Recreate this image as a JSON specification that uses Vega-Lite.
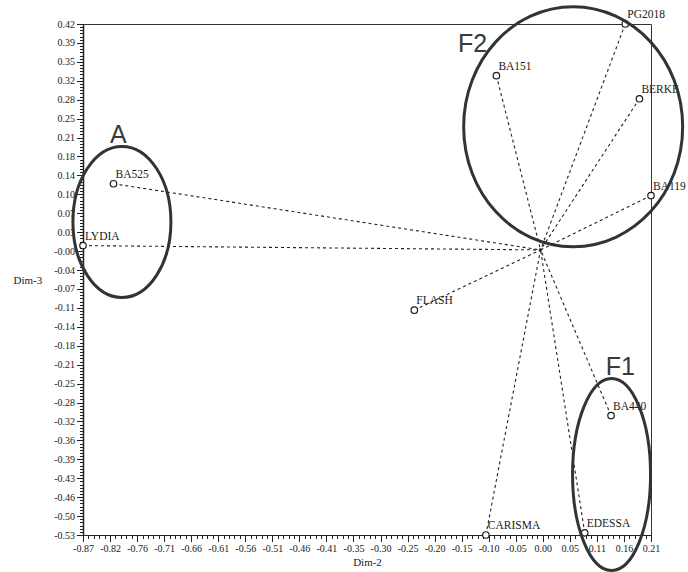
{
  "$schema": "https://vega.github.io/schema/vega-lite/v6.json",
  "width": 568,
  "height": 511,
  "autosize": {"type": "none"},
  "padding": {"left": 83, "top": 24, "right": 37, "bottom": 37},
  "background": "white",
  "config": {
    "view": {"stroke": "#333333", "strokeWidth": 1},
    "axis": {"grid": false, "domainColor": "#222222", "tickColor": "#222222", "labelColor": "#1a1a1a", "labelFont": "Liberation Serif, Times New Roman, serif", "labelFontSize": 10, "titleFont": "Liberation Serif, Times New Roman, serif", "titleFontSize": 11, "titleFontWeight": "normal", "titleColor": "#1a1a1a", "labelOverlap": false, "labelFlush": false}
  },
  "datasets": {
    "pts": [
      {"name": "PG2018", "x": 0.161, "y": 0.42},
      {"name": "BA151", "x": -0.084, "y": 0.324},
      {"name": "BERKE", "x": 0.188, "y": 0.281},
      {"name": "BA119", "x": 0.21, "y": 0.101},
      {"name": "BA525", "x": -0.812, "y": 0.123},
      {"name": "LYDIA", "x": -0.87, "y": 0.008},
      {"name": "FLASH", "x": -0.24, "y": -0.112},
      {"name": "BA440", "x": 0.134, "y": -0.308},
      {"name": "CARISMA", "x": -0.104, "y": -0.53},
      {"name": "EDESSA", "x": 0.084, "y": -0.526}
    ],
    "origin": [{"x": 0, "y": 0}],
    "groups": [
      {"group": "A", "x": -0.796, "y": 0.052, "lx": -0.8187, "ly": 0.199},
      {"group": "F2", "x": 0.062, "y": 0.229, "lx": -0.157, "ly": 0.368},
      {"group": "F1", "x": 0.135, "y": -0.4175, "lx": 0.124, "ly": -0.2325}
    ]
  },
  "layer": [
    {
      "data": {"name": "pts"},
      "mark": {"type": "point", "opacity": 0},
      "encoding": {
        "x": {"field": "x", "type": "quantitative", "axis": {"orient": "bottom", "values": {"expr": "sequence(-0.87, 0.2101, 0.01028571)"}, "labels": false, "domain": false, "tickSize": 3.5, "title": null}},
        "y": {"field": "y", "type": "quantitative", "axis": {"orient": "left", "values": {"expr": "sequence(-0.53, 0.4201, 0.00586420)"}, "labels": false, "domain": false, "tickSize": 3.5, "title": null}}
      }
    },
    {
      "data": {"name": "pts"},
      "mark": {"type": "rule", "strokeDash": [3, 3], "stroke": "#222222", "strokeWidth": 1.1},
      "encoding": {
        "x": {"field": "x", "type": "quantitative", "scale": {"domain": [-0.87, 0.21], "nice": false, "zero": false},
          "axis": {"orient": "bottom", "values": [-0.87, -0.818571, -0.767143, -0.715714, -0.664286, -0.612857, -0.561429, -0.51, -0.458571, -0.407143, -0.355714, -0.304286, -0.252857, -0.201429, -0.15, -0.098571, -0.047143, 0.004286, 0.055714, 0.107143, 0.158571, 0.21],
            "labelExpr": "['-0.87','-0.82','-0.76','-0.71','-0.66','-0.61','-0.56','-0.51','-0.46','-0.41','-0.35','-0.30','-0.25','-0.20','-0.15','-0.10','-0.05','0.00','0.05','0.11','0.16','0.21'][round((datum.value+0.87)/0.0514286)]",
            "tickSize": 6.5, "labelPadding": 2, "title": "Dim-2", "titlePadding": 3}},
        "y": {"field": "y", "type": "quantitative", "scale": {"domain": [-0.53, 0.42], "nice": false, "zero": false},
          "axis": {"orient": "left", "values": [0.42, 0.384815, 0.34963, 0.314444, 0.279259, 0.244074, 0.208889, 0.173704, 0.138519, 0.103333, 0.068148, 0.032963, -0.002222, -0.037407, -0.072593, -0.107778, -0.142963, -0.178148, -0.213333, -0.248519, -0.283704, -0.318889, -0.354074, -0.389259, -0.424444, -0.45963, -0.494815, -0.53],
            "labelExpr": "['0.42','0.39','0.35','0.32','0.28','0.25','0.21','0.18','0.14','0.10','0.07','0.03','-0.00','-0.04','-0.07','-0.11','-0.14','-0.18','-0.21','-0.25','-0.28','-0.32','-0.36','-0.39','-0.43','-0.46','-0.50','-0.53'][round((0.42-datum.value)/0.0351852)]",
            "tickSize": 6.5, "labelPadding": 2, "domainWidth": 1.5, "title": "Dim-3", "titleAngle": 0, "titleAlign": "left", "titleBaseline": "middle", "titleX": -70, "titleY": 256}},
        "x2": {"datum": 0},
        "y2": {"datum": 0}
      }
    },
    {
      "data": {"name": "origin"},
      "mark": {"type": "point", "shape": "square", "filled": true, "color": "#222222", "size": 10},
      "encoding": {
        "x": {"field": "x", "type": "quantitative", "axis": null},
        "y": {"field": "y", "type": "quantitative", "axis": null}
      }
    },
    {
      "data": {"name": "pts"},
      "mark": {"type": "point", "shape": "circle", "filled": true, "fill": "white", "stroke": "#1a1a1a", "strokeWidth": 1.2, "size": 42, "opacity": 1},
      "encoding": {
        "x": {"field": "x", "type": "quantitative", "axis": null},
        "y": {"field": "y", "type": "quantitative", "axis": null}
      }
    },
    {
      "data": {"name": "pts"},
      "mark": {"type": "text", "align": "left", "baseline": "alphabetic", "dx": 2, "dy": -6, "font": "Liberation Serif, Times New Roman, serif", "fontSize": 11.5, "fill": "#1a1a1a"},
      "encoding": {
        "x": {"field": "x", "type": "quantitative", "axis": null},
        "y": {"field": "y", "type": "quantitative", "axis": null},
        "text": {"field": "name"}
      }
    },
    {
      "data": {"name": "groups"},
      "transform": [{"filter": "datum.group === 'A'"}],
      "mark": {"type": "point", "shape": "M -1 0 A 1 1.541 0 1 1 1 0 A 1 1.541 0 1 1 -1 0 Z", "size": 9604, "filled": false, "stroke": "#333333", "strokeWidth": 3, "opacity": 1},
      "encoding": {
        "x": {"field": "x", "type": "quantitative", "axis": null},
        "y": {"field": "y", "type": "quantitative", "axis": null}
      }
    },
    {
      "data": {"name": "groups"},
      "transform": [{"filter": "datum.group === 'F2'"}],
      "mark": {"type": "point", "shape": "M -1 0 A 1 1.096 0 1 1 1 0 A 1 1.096 0 1 1 -1 0 Z", "size": 47961, "filled": false, "stroke": "#333333", "strokeWidth": 3, "opacity": 1},
      "encoding": {
        "x": {"field": "x", "type": "quantitative", "axis": null},
        "y": {"field": "y", "type": "quantitative", "axis": null}
      }
    },
    {
      "data": {"name": "groups"},
      "transform": [{"filter": "datum.group === 'F1'"}],
      "mark": {"type": "point", "shape": "M -1 0 A 1 2.462 0 1 1 1 0 A 1 2.462 0 1 1 -1 0 Z", "size": 6084, "filled": false, "stroke": "#333333", "strokeWidth": 3, "opacity": 1},
      "encoding": {
        "x": {"field": "x", "type": "quantitative", "axis": null},
        "y": {"field": "y", "type": "quantitative", "axis": null}
      }
    },
    {
      "data": {"name": "groups"},
      "mark": {"type": "text", "align": "left", "baseline": "alphabetic", "font": "Liberation Sans", "fontSize": 25, "fill": "#3a3a3a"},
      "encoding": {
        "x": {"field": "lx", "type": "quantitative", "axis": null},
        "y": {"field": "ly", "type": "quantitative", "axis": null},
        "text": {"field": "group"}
      }
    }
  ],
  "resolve": {"axis": {"x": "independent", "y": "independent"}}
}
